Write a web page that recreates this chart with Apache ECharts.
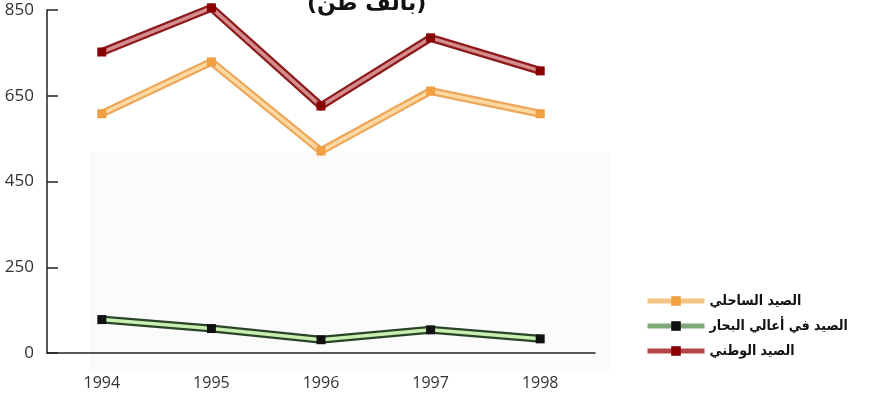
<!DOCTYPE html>
<html>
<head>
<meta charset="utf-8">
<script src="https://cdn.jsdelivr.net/npm/echarts@6/dist/echarts.min.js"></script>
<style>
html,body{margin:0;padding:0;background:#fff;}
#chart{width:873px;height:404px;}
</style>
</head>
<body>
<div id="chart"></div>
<script>
var years = ['1994', '1995', '1996', '1997', '1998'];
var coastal = [608, 729, 521, 661, 608];
var offshore = [128, 107, 81, 104, 83];
var national = [752, 855, 626, 785, 708];
var yTicks = [50, 250, 450, 650, 850];
var yTickLabels = ['0', '250', '450', '650', '850'];
var names = ['الصيد الساحلي', 'الصيد في أعالي البحار', 'الصيد الوطني'];
var titleText = '(بألف طن)';

var styles = [
  {outer: '#eda75a', inner: '#fcd9a2', mark: '#f0a040', legend: '#f6c585'},
  {outer: '#2a442a', inner: '#c8eeb0', mark: '#111111', legend: '#7fa878'},
  {outer: '#8c1a1a', inner: '#d58c8c', mark: '#8b0000', legend: '#b34747'}
];
var datasets = [coastal, offshore, national];

var series = [];
datasets.forEach(function (d, i) {
  series.push({
    name: names[i] + '_outline',
    type: 'line',
    data: d,
    clip: false,
    silent: true,
    symbol: 'none',
    z: 2,
    lineStyle: {width: 8, color: styles[i].outer, join: 'miter'}
  });
  series.push({
    name: names[i],
    type: 'line',
    data: d,
    clip: false,
    symbol: 'rect',
    symbolSize: 9,
    z: 3,
    itemStyle: {color: styles[i].mark},
    lineStyle: {width: 3.5, color: styles[i].inner, join: 'miter'}
  });
});

var legendData = names.map(function (n, i) {
  return {name: n, lineStyle: {width: 5, color: styles[i].legend}};
});

var chart = echarts.init(document.getElementById('chart'));
chart.setOption({
  animation: false,
  backgroundColor: '#ffffff',
  graphic: [{
    type: 'rect', z: -10, silent: true,
    shape: {x: 90, y: 152, width: 520, height: 220},
    style: {fill: '#fbfbfb'}
  }],
  title: {
    text: titleText,
    left: 302,
    top: -12,
    textStyle: {fontFamily: 'DejaVu Sans', fontWeight: 'bold', fontSize: 22, color: '#111'}
  },
  legend: {
    orient: 'vertical',
    left: 640,
    top: 289,
    itemWidth: 57,
    itemHeight: 12,
    itemGap: 11,
    data: legendData,
    textStyle: {fontFamily: 'DejaVu Sans Condensed', fontWeight: 'bold', fontSize: 14, color: '#111'}
  },
  grid: {left: 47, right: 278, top: 10, bottom: 51, containLabel: false},
  xAxis: {
    type: 'category',
    data: years,
    boundaryGap: true,
    axisLine: {lineStyle: {color: '#222', width: 1.5}},
    axisTick: {inside: true, length: 8, lineStyle: {color: '#222', width: 1.5}},
    axisLabel: {margin: 22, fontFamily: 'Open Sans', fontSize: 16, color: '#333'},
    splitLine: {show: false}
  },
  yAxis: {
    type: 'value',
    min: 50,
    max: 850,
    interval: 200,
    axisLine: {show: true, lineStyle: {color: '#222', width: 1.5}},
    axisTick: {show: true, inside: true, length: 11, lineStyle: {color: '#222', width: 1.5}},
    axisLabel: {
      margin: 13,
      fontFamily: 'Open Sans', fontSize: 17, color: '#333',
      formatter: function (v) {
        var k = yTicks.indexOf(v);
        return k >= 0 ? yTickLabels[k] : '';
      }
    },
    splitLine: {show: false}
  },
  series: series
});
</script>
</body>
</html>
